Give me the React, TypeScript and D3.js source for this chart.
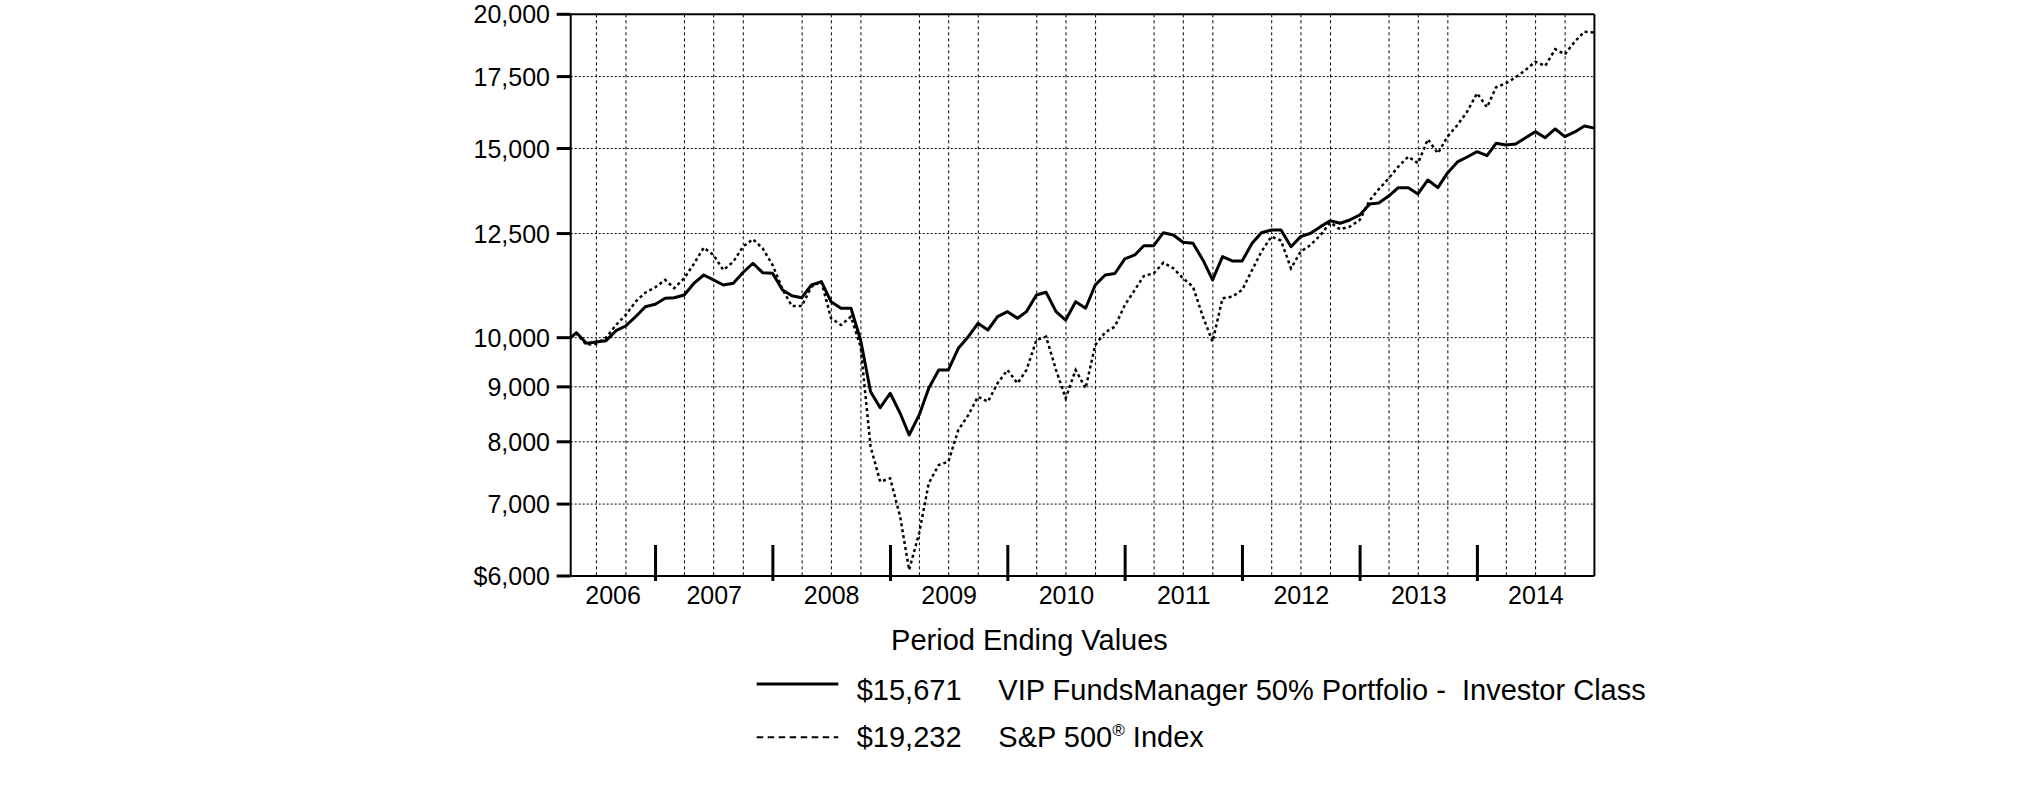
import React from "react";
import * as d3 from "d3";

// Start (inception) point followed by month-end values, Apr 2006 .. Dec 2014
const fundValues: number[] = [
  10000, 10107, 9880, 9908, 9936, 10151, 10254, 10460, 10686, 10742,
  10881, 10895, 10958, 11232, 11438, 11320, 11196, 11237, 11500, 11730, 11495, 11480,
  11078, 10942, 10895, 11196, 11276, 10802, 10651, 10651, 9950, 8907, 8607, 8877,
  8504, 8118, 8470, 8972, 9331, 9331, 9775, 10022, 10313, 10166, 10460, 10574,
  10425, 10574, 10958, 11024, 10574, 10386, 10802, 10651, 11196, 11438, 11475, 11838,
  11940, 12179, 12179, 12524, 12462, 12269, 12243, 11813, 11317, 11897, 11787, 11787,
  12243, 12524, 12596, 12596, 12154, 12418, 12508, 12687, 12850, 12780, 12870, 13008,
  13318, 13347, 13548, 13793, 13793, 13608, 14022, 13793, 14235, 14574, 14731, 14899,
  14772, 15170, 15115, 15148, 15353, 15552, 15353, 15642, 15386, 15542, 15743, 15671,
];

const spValues: number[] = [
  10000, 10090, 9850, 9870, 10000, 10276, 10498, 10802, 11013, 11141,
  11317, 11120, 11358, 11712, 12128, 11940, 11560, 11769, 12154, 12349, 12113, 11686,
  11094, 10703, 10700, 11155, 11276, 10425, 10276, 10460, 9809, 7916, 7344, 7398,
  6814, 6078, 6575, 7319, 7612, 7666, 8205, 8470, 8812, 8718, 9069, 9331,
  9069, 9331, 9950, 10022, 9331, 8782, 9331, 8972, 9845, 10116, 10239, 10726,
  11078, 11414, 11480, 11744, 11604, 11358, 11155, 10460, 9915, 10881, 10918, 11078,
  11560, 12024, 12418, 12312, 11604, 12024, 12198, 12462, 12797, 12616, 12687, 12870,
  13425, 13745, 14073, 14428, 14740, 14534, 15300, 14848, 15386, 15777, 16233, 16886,
  16386, 17105, 17251, 17475, 17751, 18070, 17903, 18556, 18358, 18861, 19270, 19232,
];

const yTickValues: number[] = [6000, 7000, 8000, 9000, 10000, 12500, 15000, 17500, 20000];
const yearLabels: string[] = ["2006", "2007", "2008", "2009", "2010", "2011", "2012", "2013", "2014"];
const legendTitle = "Period Ending Values";
const legendAmounts: string[] = ["$15,671", "$19,232"];
const legendNames: string[] = ["VIP FundsManager 50% Portfolio -  Investor Class", "S&P 500"];

const startDate = new Date(2006, 3, 12);
const endDate = new Date(2014, 11, 31);

const FONT = "'Liberation Sans', Arial, Helvetica, sans-serif";

export default function App() {
  const left = 570.7;
  const right = 1594.4;
  const top = 14.3;
  const bottom = 576;

  const x = d3.scaleTime().domain([startDate, endDate]).range([left, right]);
  const y = d3.scaleLog().domain([6000, 20000]).range([bottom, top]);

  const dates: Date[] = [startDate];
  for (let k = 1; k < fundValues.length; k++) {
    dates.push(new Date(2006, 3 + k, 0));
  }

  const fundLine = d3
    .line<number>()
    .x((_, i) => x(dates[i]))
    .y((v) => y(v));

  const yearStarts = d3.timeYear.range(new Date(2007, 0, 1), new Date(2015, 0, 1));
  const yearTicks = yearStarts.filter((d) => d.getFullYear() <= 2014);
  const quarterLines = d3
    .timeMonth.every(3)!
    .range(new Date(2006, 6, 1), new Date(2014, 11, 1))
    .filter((d) => d.getMonth() !== 0);

  const yearBounds = [startDate, ...yearStarts.slice(0, 8), endDate];
  const fmt = d3.format(",");

  return (
    <svg
      width={2025}
      height={788}
      style={{ position: "absolute", left: 0, top: 0, background: "#fff" }}
      fontFamily={FONT}
    >
      <rect x={0} y={0} width={2025} height={788} fill="#fff" />
      {/* horizontal gridlines */}
      {yTickValues
        .filter((v) => v !== 6000 && v !== 20000)
        .map((v) => (
          <line
            key={"hg" + v}
            x1={left}
            x2={right}
            y1={y(v)}
            y2={y(v)}
            stroke="#000"
            strokeWidth={1}
            strokeDasharray="2,2"
          />
        ))}
      {/* vertical quarter gridlines */}
      {quarterLines.map((d, i) => (
        <line
          key={"vg" + i}
          x1={x(d)}
          x2={x(d)}
          y1={top}
          y2={bottom}
          stroke="#000"
          strokeWidth={1}
          strokeDasharray="3,3"
        />
      ))}
      {/* frame */}
      <line x1={left} x2={right} y1={top} y2={top} stroke="#000" strokeWidth={2} />
      <line x1={right} x2={right} y1={top} y2={bottom} stroke="#000" strokeWidth={2} />
      <line x1={left} x2={right} y1={bottom} y2={bottom} stroke="#000" strokeWidth={2} />
      <line x1={left} x2={left} y1={top} y2={bottom} stroke="#000" strokeWidth={2} />
      {/* y ticks */}
      {yTickValues.map((v) => (
        <g key={"yt" + v}>
          <line x1={left - 14} x2={left} y1={y(v)} y2={y(v)} stroke="#000" strokeWidth={3} />
          <text
            x={550}
            y={y(v) + 9}
            textAnchor="end"
            fontSize={25}
            fill="#000"
          >
            {(v === 6000 ? "$" : "") + fmt(v)}
          </text>
        </g>
      ))}
      {/* year ticks */}
      {yearTicks.map((d, i) => (
        <line
          key={"yr" + i}
          x1={x(d)}
          x2={x(d)}
          y1={545}
          y2={581}
          stroke="#000"
          strokeWidth={3}
        />
      ))}
      {yearLabels.map((lab, i) => (
        <text
          key={"yl" + lab}
          x={(x(yearBounds[i]) + x(yearBounds[i + 1])) / 2}
          y={604}
          textAnchor="middle"
          fontSize={25}
          fill="#000"
        >
          {lab}
        </text>
      ))}
      {/* series */}
      <path
        d={fundLine(spValues) || ""}
        fill="none"
        stroke="#000"
        strokeWidth={2.5}
        strokeDasharray="3,3"
      />
      <path
        d={fundLine(fundValues) || ""}
        fill="none"
        stroke="#000"
        strokeWidth={3}
        strokeLinejoin="round"
      />
      {/* legend */}
      <text x={1029.5} y={650} textAnchor="middle" fontSize={29} fill="#000">
        {legendTitle}
      </text>
      <line x1={756.7} x2={838.3} y1={684} y2={684} stroke="#000" strokeWidth={3} />
      <text x={856.7} y={700} fontSize={29} fill="#000">
        {legendAmounts[0]}
      </text>
      <text x={998.3} y={700} fontSize={29} fill="#000" style={{ whiteSpace: "pre" }}>
        {legendNames[0]}
      </text>
      <line
        x1={756.7}
        x2={838.3}
        y1={737.3}
        y2={737.3}
        stroke="#000"
        strokeWidth={2}
        strokeDasharray="6.5,4.5"
      />
      <text x={856.7} y={746.7} fontSize={29} fill="#000">
        {legendAmounts[1]}
      </text>
      <text x={998.3} y={746.7} fontSize={29} fill="#000" style={{ whiteSpace: "pre" }}>
        {legendNames[1]}
        <tspan fontSize={17} dy={-11}>®</tspan>
        <tspan dy={11}> Index</tspan>
      </text>
    </svg>
  );
}
